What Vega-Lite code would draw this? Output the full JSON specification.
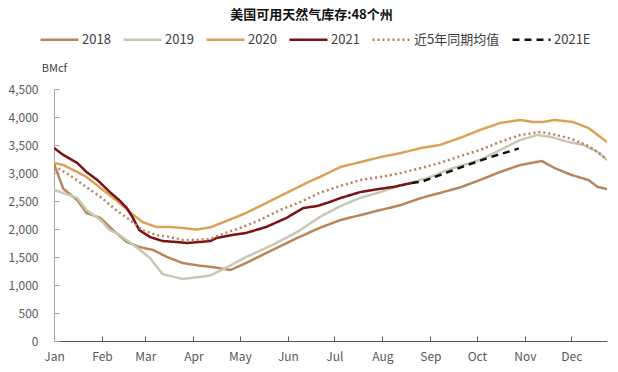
{
  "$schema": "https://vega.github.io/schema/vega-lite/v6.json",
  "width": 553,
  "height": 252,
  "autosize": {"type": "none"},
  "padding": {"left": 54, "top": 89, "right": 11, "bottom": 31},
  "background": "white",
  "title": {"text": "美国可用天然气库存:48个州", "fontSize": 13, "fontWeight": "bold", "font": "Noto Sans CJK SC", "color": "#111111", "anchor": "middle", "dx": -19, "offset": -3},
  "config": {
    "view": {"stroke": null},
    "font": "Noto Sans CJK SC"
  },
  "datasets": {
    "gas": [
      {"s": "2018", "d": "2021-01-01", "v": 3160},
      {"s": "2018", "d": "2021-01-07", "v": 2720},
      {"s": "2018", "d": "2021-01-16", "v": 2518},
      {"s": "2018", "d": "2021-01-22", "v": 2286},
      {"s": "2018", "d": "2021-01-31", "v": 2197},
      {"s": "2018", "d": "2021-02-08", "v": 1982},
      {"s": "2018", "d": "2021-02-17", "v": 1768},
      {"s": "2018", "d": "2021-02-25", "v": 1679},
      {"s": "2018", "d": "2021-03-06", "v": 1625},
      {"s": "2018", "d": "2021-03-15", "v": 1500},
      {"s": "2018", "d": "2021-03-25", "v": 1393},
      {"s": "2018", "d": "2021-04-05", "v": 1345},
      {"s": "2018", "d": "2021-04-12", "v": 1325},
      {"s": "2018", "d": "2021-04-19", "v": 1295},
      {"s": "2018", "d": "2021-04-25", "v": 1268},
      {"s": "2018", "d": "2021-05-05", "v": 1393},
      {"s": "2018", "d": "2021-05-22", "v": 1625},
      {"s": "2018", "d": "2021-06-07", "v": 1840},
      {"s": "2018", "d": "2021-06-22", "v": 2025},
      {"s": "2018", "d": "2021-07-05", "v": 2161},
      {"s": "2018", "d": "2021-07-18", "v": 2250},
      {"s": "2018", "d": "2021-07-31", "v": 2340},
      {"s": "2018", "d": "2021-08-13", "v": 2429},
      {"s": "2018", "d": "2021-08-26", "v": 2554},
      {"s": "2018", "d": "2021-09-07", "v": 2643},
      {"s": "2018", "d": "2021-09-20", "v": 2740},
      {"s": "2018", "d": "2021-10-03", "v": 2875},
      {"s": "2018", "d": "2021-10-16", "v": 3018},
      {"s": "2018", "d": "2021-10-29", "v": 3143},
      {"s": "2018", "d": "2021-11-12", "v": 3215},
      {"s": "2018", "d": "2021-11-20", "v": 3090},
      {"s": "2018", "d": "2021-12-01", "v": 2965},
      {"s": "2018", "d": "2021-12-12", "v": 2875},
      {"s": "2018", "d": "2021-12-18", "v": 2750},
      {"s": "2018", "d": "2021-12-24", "v": 2714},

      {"s": "2019", "d": "2021-01-01", "v": 2697},
      {"s": "2019", "d": "2021-01-07", "v": 2643},
      {"s": "2019", "d": "2021-01-16", "v": 2554},
      {"s": "2019", "d": "2021-01-22", "v": 2340},
      {"s": "2019", "d": "2021-01-31", "v": 2161},
      {"s": "2019", "d": "2021-02-06", "v": 1982},
      {"s": "2019", "d": "2021-02-12", "v": 1900},
      {"s": "2019", "d": "2021-02-23", "v": 1679},
      {"s": "2019", "d": "2021-03-04", "v": 1482},
      {"s": "2019", "d": "2021-03-12", "v": 1197},
      {"s": "2019", "d": "2021-03-25", "v": 1107},
      {"s": "2019", "d": "2021-04-05", "v": 1143},
      {"s": "2019", "d": "2021-04-12", "v": 1170},
      {"s": "2019", "d": "2021-04-23", "v": 1322},
      {"s": "2019", "d": "2021-05-05", "v": 1500},
      {"s": "2019", "d": "2021-05-22", "v": 1714},
      {"s": "2019", "d": "2021-06-07", "v": 1947},
      {"s": "2019", "d": "2021-06-22", "v": 2220},
      {"s": "2019", "d": "2021-07-05", "v": 2410},
      {"s": "2019", "d": "2021-07-18", "v": 2560},
      {"s": "2019", "d": "2021-07-31", "v": 2661},
      {"s": "2019", "d": "2021-08-13", "v": 2786},
      {"s": "2019", "d": "2021-08-21", "v": 2840},
      {"s": "2019", "d": "2021-09-01", "v": 2929},
      {"s": "2019", "d": "2021-09-12", "v": 3054},
      {"s": "2019", "d": "2021-09-20", "v": 3125},
      {"s": "2019", "d": "2021-10-03", "v": 3233},
      {"s": "2019", "d": "2021-10-16", "v": 3411},
      {"s": "2019", "d": "2021-10-29", "v": 3590},
      {"s": "2019", "d": "2021-11-09", "v": 3679},
      {"s": "2019", "d": "2021-11-18", "v": 3643},
      {"s": "2019", "d": "2021-11-29", "v": 3554},
      {"s": "2019", "d": "2021-12-09", "v": 3500},
      {"s": "2019", "d": "2021-12-18", "v": 3375},
      {"s": "2019", "d": "2021-12-24", "v": 3233},

      {"s": "2020", "d": "2021-01-01", "v": 3179},
      {"s": "2020", "d": "2021-01-07", "v": 3143},
      {"s": "2020", "d": "2021-01-16", "v": 3018},
      {"s": "2020", "d": "2021-01-22", "v": 2929},
      {"s": "2020", "d": "2021-01-31", "v": 2732},
      {"s": "2020", "d": "2021-02-10", "v": 2518},
      {"s": "2020", "d": "2021-02-19", "v": 2304},
      {"s": "2020", "d": "2021-02-27", "v": 2125},
      {"s": "2020", "d": "2021-03-08", "v": 2036},
      {"s": "2020", "d": "2021-03-17", "v": 2036},
      {"s": "2020", "d": "2021-03-25", "v": 2018},
      {"s": "2020", "d": "2021-04-03", "v": 1990},
      {"s": "2020", "d": "2021-04-12", "v": 2030},
      {"s": "2020", "d": "2021-04-24", "v": 2161},
      {"s": "2020", "d": "2021-05-05", "v": 2286},
      {"s": "2020", "d": "2021-05-18", "v": 2464},
      {"s": "2020", "d": "2021-05-31", "v": 2643},
      {"s": "2020", "d": "2021-06-13", "v": 2822},
      {"s": "2020", "d": "2021-06-24", "v": 2960},
      {"s": "2020", "d": "2021-07-05", "v": 3108},
      {"s": "2020", "d": "2021-07-18", "v": 3197},
      {"s": "2020", "d": "2021-07-31", "v": 3286},
      {"s": "2020", "d": "2021-08-13", "v": 3357},
      {"s": "2020", "d": "2021-08-26", "v": 3447},
      {"s": "2020", "d": "2021-09-07", "v": 3500},
      {"s": "2020", "d": "2021-09-20", "v": 3625},
      {"s": "2020", "d": "2021-10-03", "v": 3768},
      {"s": "2020", "d": "2021-10-16", "v": 3893},
      {"s": "2020", "d": "2021-10-29", "v": 3947},
      {"s": "2020", "d": "2021-11-06", "v": 3911},
      {"s": "2020", "d": "2021-11-13", "v": 3911},
      {"s": "2020", "d": "2021-11-20", "v": 3947},
      {"s": "2020", "d": "2021-12-02", "v": 3911},
      {"s": "2020", "d": "2021-12-12", "v": 3804},
      {"s": "2020", "d": "2021-12-18", "v": 3679},
      {"s": "2020", "d": "2021-12-24", "v": 3554},

      {"s": "2021", "d": "2021-01-01", "v": 3447},
      {"s": "2021", "d": "2021-01-07", "v": 3322},
      {"s": "2021", "d": "2021-01-16", "v": 3179},
      {"s": "2021", "d": "2021-01-22", "v": 3018},
      {"s": "2021", "d": "2021-01-29", "v": 2875},
      {"s": "2021", "d": "2021-02-06", "v": 2661},
      {"s": "2021", "d": "2021-02-12", "v": 2518},
      {"s": "2021", "d": "2021-02-17", "v": 2375},
      {"s": "2021", "d": "2021-02-21", "v": 2197},
      {"s": "2021", "d": "2021-02-25", "v": 1982},
      {"s": "2021", "d": "2021-03-04", "v": 1857},
      {"s": "2021", "d": "2021-03-12", "v": 1786},
      {"s": "2021", "d": "2021-03-21", "v": 1768},
      {"s": "2021", "d": "2021-03-28", "v": 1750},
      {"s": "2021", "d": "2021-04-05", "v": 1768},
      {"s": "2021", "d": "2021-04-12", "v": 1786},
      {"s": "2021", "d": "2021-04-16", "v": 1840},
      {"s": "2021", "d": "2021-04-26", "v": 1893},
      {"s": "2021", "d": "2021-05-05", "v": 1929},
      {"s": "2021", "d": "2021-05-18", "v": 2036},
      {"s": "2021", "d": "2021-05-31", "v": 2197},
      {"s": "2021", "d": "2021-06-11", "v": 2375},
      {"s": "2021", "d": "2021-06-20", "v": 2411},
      {"s": "2021", "d": "2021-06-28", "v": 2482},
      {"s": "2021", "d": "2021-07-05", "v": 2554},
      {"s": "2021", "d": "2021-07-18", "v": 2661},
      {"s": "2021", "d": "2021-07-31", "v": 2720},
      {"s": "2021", "d": "2021-08-08", "v": 2750},
      {"s": "2021", "d": "2021-08-20", "v": 2822},

      {"s": "近5年同期均值", "d": "2021-01-01", "v": 3125},
      {"s": "近5年同期均值", "d": "2021-01-11", "v": 2965},
      {"s": "近5年同期均值", "d": "2021-01-20", "v": 2786},
      {"s": "近5年同期均值", "d": "2021-01-31", "v": 2572},
      {"s": "近5年同期均值", "d": "2021-02-10", "v": 2340},
      {"s": "近5年同期均值", "d": "2021-02-19", "v": 2161},
      {"s": "近5年同期均值", "d": "2021-02-27", "v": 1982},
      {"s": "近5年同期均值", "d": "2021-03-08", "v": 1893},
      {"s": "近5年同期均值", "d": "2021-03-17", "v": 1857},
      {"s": "近5年同期均值", "d": "2021-03-25", "v": 1804},
      {"s": "近5年同期均值", "d": "2021-04-03", "v": 1804},
      {"s": "近5年同期均值", "d": "2021-04-12", "v": 1822},
      {"s": "近5年同期均值", "d": "2021-04-18", "v": 1893},
      {"s": "近5年同期均值", "d": "2021-05-01", "v": 2018},
      {"s": "近5年同期均值", "d": "2021-05-14", "v": 2161},
      {"s": "近5年同期均值", "d": "2021-05-27", "v": 2339},
      {"s": "近5年同期均值", "d": "2021-06-09", "v": 2482},
      {"s": "近5年同期均值", "d": "2021-06-22", "v": 2650},
      {"s": "近5年同期均值", "d": "2021-07-05", "v": 2770},
      {"s": "近5年同期均值", "d": "2021-07-18", "v": 2875},
      {"s": "近5年同期均值", "d": "2021-07-31", "v": 2929},
      {"s": "近5年同期均值", "d": "2021-08-13", "v": 3000},
      {"s": "近5年同期均值", "d": "2021-08-26", "v": 3090},
      {"s": "近5年同期均值", "d": "2021-09-07", "v": 3179},
      {"s": "近5年同期均值", "d": "2021-09-20", "v": 3300},
      {"s": "近5年同期均值", "d": "2021-10-03", "v": 3411},
      {"s": "近5年同期均值", "d": "2021-10-16", "v": 3554},
      {"s": "近5年同期均值", "d": "2021-10-29", "v": 3679},
      {"s": "近5年同期均值", "d": "2021-11-11", "v": 3732},
      {"s": "近5年同期均值", "d": "2021-11-20", "v": 3690},
      {"s": "近5年同期均值", "d": "2021-12-01", "v": 3610},
      {"s": "近5年同期均值", "d": "2021-12-12", "v": 3480},
      {"s": "近5年同期均值", "d": "2021-12-18", "v": 3375},
      {"s": "近5年同期均值", "d": "2021-12-24", "v": 3240},

      {"s": "2021E", "d": "2021-08-20", "v": 2822},
      {"s": "2021E", "d": "2021-08-27", "v": 2850},
      {"s": "2021E", "d": "2021-09-16", "v": 3054},
      {"s": "2021E", "d": "2021-09-25", "v": 3143},
      {"s": "2021E", "d": "2021-10-08", "v": 3268},
      {"s": "2021E", "d": "2021-10-25", "v": 3411},
      {"s": "2021E", "d": "2021-10-28", "v": 3440}
    ]
  },
  "data": {"name": "gas"},
  "mark": {"type": "line", "strokeWidth": 2.5, "clip": true},
  "encoding": {
    "x": {
      "field": "d", "type": "temporal",
      "scale": {"type": "utc", "domain": [{"year": 2021, "month": 1, "date": 1, "utc": true}, {"year": 2021, "month": 12, "date": 24, "utc": true}]},
      "axis": {"title": null, "format": "%b", "tickCount": {"interval": "month", "step": 1}, "grid": false,
               "domainColor": "#595959", "tickColor": "#595959", "tickSize": -5, "labelPadding": 15,
               "labelColor": "#595959", "labelFontSize": 12, "labelFont": "Noto Sans CJK SC", "labelFlush": false, "labelOverlap": false}
    },
    "y": {
      "field": "v", "type": "quantitative",
      "scale": {"domain": [0, 4500]},
      "axis": {"values": [0, 500, 1000, 1500, 2000, 2500, 3000, 3500, 4000, 4500], "format": ",.0f", "grid": false,
               "domainColor": "#a6a6a6", "tickColor": "#a6a6a6", "tickSize": -5, "labelPadding": 21,
               "labelColor": "#595959", "labelFontSize": 12, "labelFont": "Noto Sans CJK SC",
               "title": "BMcf", "titleAngle": 0, "titleAlign": "center", "titleBaseline": "middle", "titleX": 0, "titleY": -21,
               "titleFontWeight": "normal", "titleFontSize": 11, "titleColor": "#404040", "titleFont": "Noto Sans CJK SC"}
    },
    "color": {
      "field": "s", "type": "nominal",
      "scale": {"domain": ["2018", "2019", "2020", "2021", "近5年同期均值", "2021E"],
                "range": ["#B8865B", "#C8C8B6", "#DBA257", "#7B1113", "#B7805A", "#111111"]},
      "legend": {"title": null, "orient": "none", "legendX": -15, "legendY": -70, "direction": "horizontal",
                 "symbolType": "stroke", "symbolSize": 1444, "symbolStrokeWidth": 2.5, "labelFontSize": 13,
                 "labelColor": "#404040", "labelFont": "Noto Sans CJK SC", "columnPadding": 7, "labelOffset": 2}
    },
    "strokeDash": {
      "field": "s", "type": "nominal",
      "scale": {"domain": ["2018", "2019", "2020", "2021", "近5年同期均值", "2021E"],
                "range": [[1, 0], [1, 0], [1, 0], [1, 0], [2, 3], [7, 5]]}
    }
  }
}
